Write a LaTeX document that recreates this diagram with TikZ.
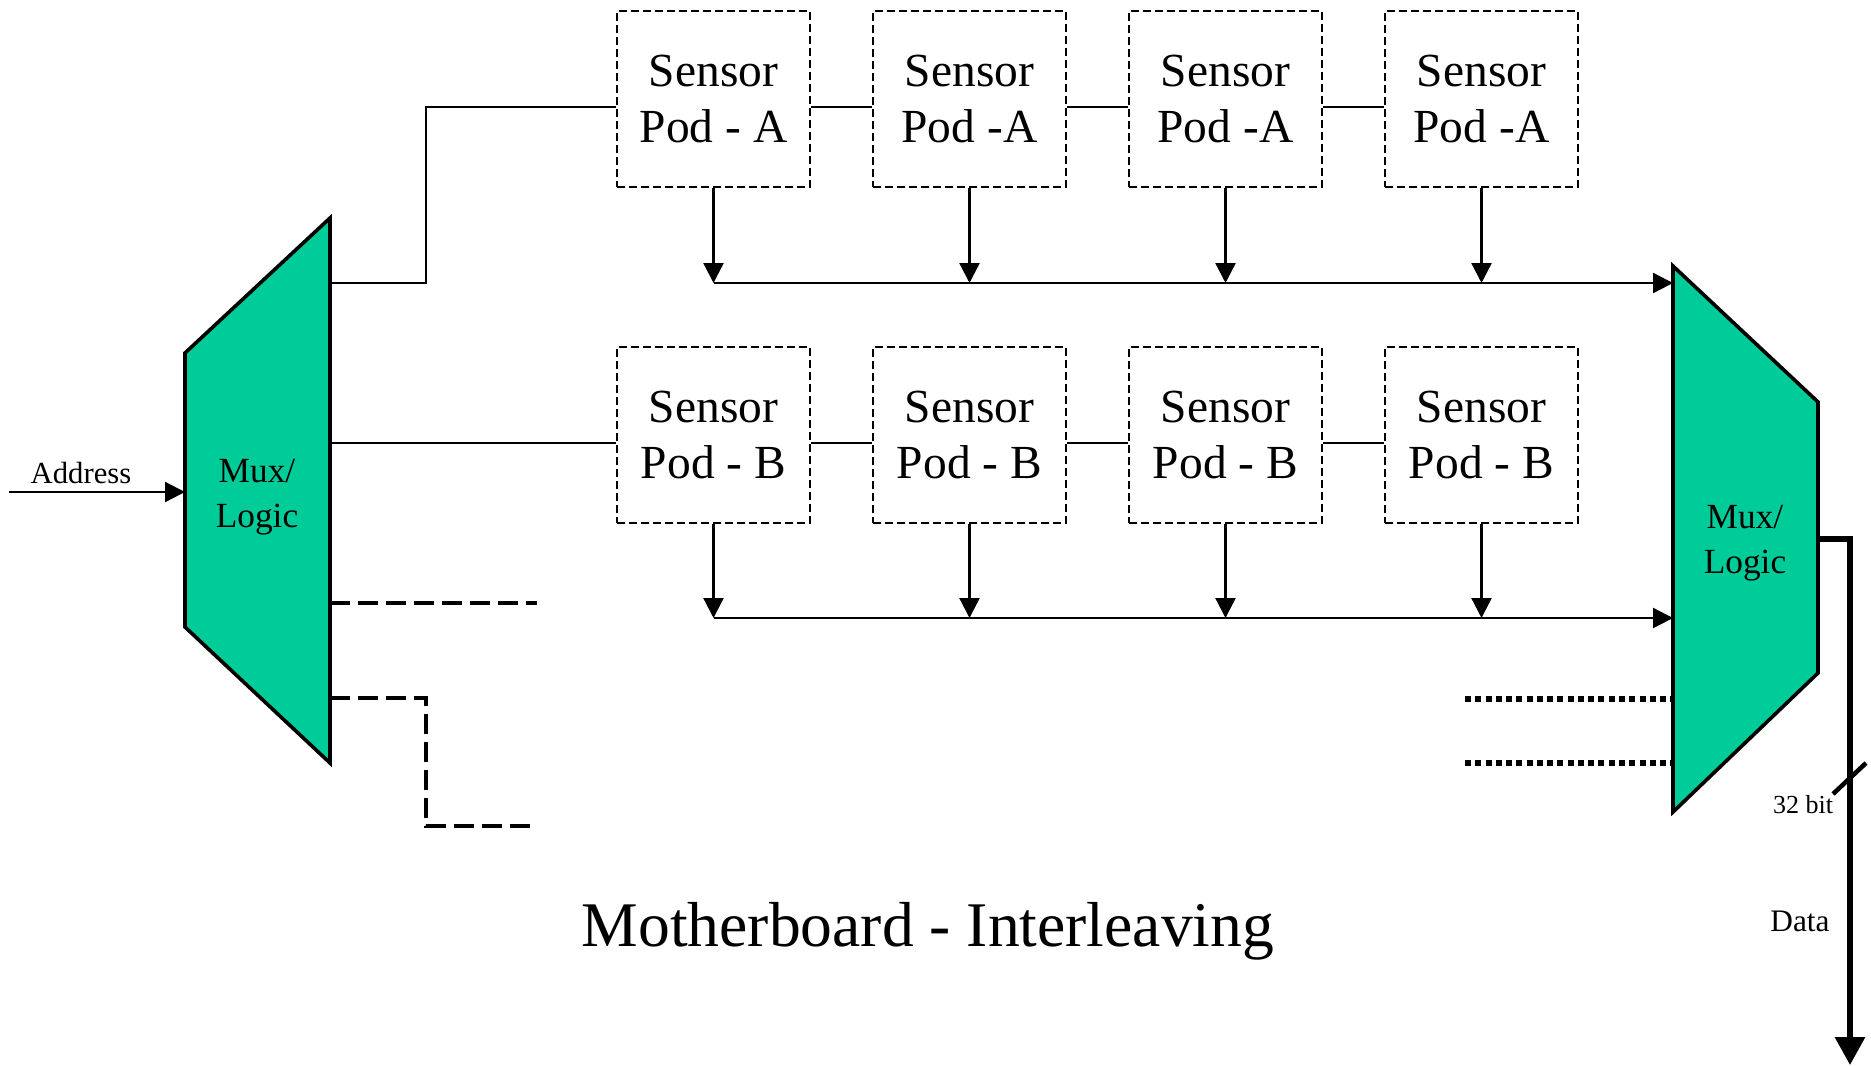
\documentclass[tikz,border=0pt]{standalone}
\usepackage{fontspec}
\setmainfont{Liberation Serif}
\usetikzlibrary{arrows.meta}
\definecolor{muxgreen}{RGB}{0,204,153}

\begin{document}
\begin{tikzpicture}[x=0.75pt, y=-0.75pt]
    \tikzset{
    pod node/.style={draw, dash pattern=on 6pt off 3pt, line width=1.4pt, minimum width=144.75pt, minimum height=132pt, inner sep=0, align=center, font=\fontsize{35.6}{42.5}\selectfont},
    mux shape/.style={fill=muxgreen, draw, line width=2.7pt},
    mux text/.style={align=center, inner sep=0, font=\fontsize{26.5}{33.5}\selectfont},
    wire/.style={line width=1.75pt},
    pod arrow/.style={wire, -{Triangle[length=15pt, width=15pt]}},
    spare/.style={line width=2.6pt, dash pattern=on 15pt off 6pt},
    unused/.style={line width=4.2pt, dash pattern=on 4.5pt off 3.2pt},
    data bus/.style={line width=4pt, -{Triangle[length=21pt, width=22pt]}},
    txt/.style={anchor=base, inner sep=0}
    }
    \useasboundingbox (0,0) rectangle (1871,1065);

    % the two mux blocks
    \draw[mux shape] (330,218) -- (330,763) -- (185,627) -- (185,353) -- cycle;
    \draw[mux shape] (1673,266) -- (1818,402) -- (1818,673) -- (1673,812) -- cycle;
    \node[mux text] (lmux) at (257,497) {Mux/\\Logic};
    \node[mux text] (rmux) at (1745,543) {Mux/\\Logic};

    % ports on the mux sides
    \coordinate (l1) at (330,283);
    \coordinate (l2) at (330,443);
    \coordinate (l3) at (330,603);
    \coordinate (l4) at (330,698);
    \coordinate (r1) at (1673,283);
    \coordinate (r2) at (1673,618);
    \coordinate (r3) at (1673,699);
    \coordinate (r4) at (1673,763);
    \coordinate (rout) at (1818,539);
    \coordinate (addr) at (9,492);
    \coordinate (lin) at (185,492);
    \coordinate (data end) at (1850,1065);

    % sensor pods
    \node[pod node] (a1) at (713.5,99) {Sensor\\Pod - A};
    \node[pod node] (a2) at (969.5,99) {Sensor\\Pod -A};
    \node[pod node] (a3) at (1225.5,99) {Sensor\\Pod -A};
    \node[pod node] (a4) at (1481.5,99) {Sensor\\Pod -A};
    \node[pod node] (b1) at (713.5,435) {Sensor\\Pod - B};
    \node[pod node] (b2) at (969.5,435) {Sensor\\Pod - B};
    \node[pod node] (b3) at (1225.5,435) {Sensor\\Pod - B};
    \node[pod node] (b4) at (1481.5,435) {Sensor\\Pod - B};

    % daisy chains
    \draw[wire] (l1) -- ++(96,0) |- ([yshift=-6pt]a1.west);
    \draw[wire] (l2) -- ([yshift=-6pt]b1.west);
    \path[draw, wire]
    ([yshift=-6pt]a1.east) edge ([yshift=-6pt]a2.west)
    ([yshift=-6pt]a2.east) edge ([yshift=-6pt]a3.west)
    ([yshift=-6pt]a3.east) edge ([yshift=-6pt]a4.west)
    ([yshift=-6pt]b1.east) edge ([yshift=-6pt]b2.west)
    ([yshift=-6pt]b2.east) edge ([yshift=-6pt]b3.west)
    ([yshift=-6pt]b3.east) edge ([yshift=-6pt]b4.west)
    ;

    % pod outputs onto the buses
    \path[pod arrow]
    (a1.south) edge (a1.south |- r1)
    (a2.south) edge (a2.south |- r1)
    (a3.south) edge (a3.south |- r1)
    (a4.south) edge (a4.south |- r1)
    (b1.south) edge (b1.south |- r2)
    (b2.south) edge (b2.south |- r2)
    (b3.south) edge (b3.south |- r2)
    (b4.south) edge (b4.south |- r2)
    ;
    \draw[pod arrow] (a1.south |- r1) -- (r1);
    \draw[pod arrow] (b1.south |- r2) -- (r2);

    % unused channels
    \draw[spare] (l3) -- ++(207,0);
    \draw[spare] (l4) -| ++(96,128) -- ++(105,0);
    \draw[unused] ([xshift=-156pt]r3) -- (r3);
    \draw[unused] ([xshift=-156pt]r4) -- (r4);

    % address in, data out
    \draw[pod arrow] (addr) -- (lin);
    \node[txt, font=\fontsize{23}{28}\selectfont] (addr label) at (81,483) {Address};
    \draw[data bus] (rout) -| (data end);
    \draw[line width=3.4pt] (1833,794) -- (1866,763);
    \node[txt, font=\fontsize{19.5}{24}\selectfont] (width label) at (1803,813) {32 bit};
    \node[txt, font=\fontsize{23.5}{28}\selectfont] (data label) at (1800,931) {Data};

    \node[txt, font=\fontsize{47.7}{57}\selectfont] (title) at (928,946) {Motherboard - Interleaving};
\end{tikzpicture}
\end{document}
